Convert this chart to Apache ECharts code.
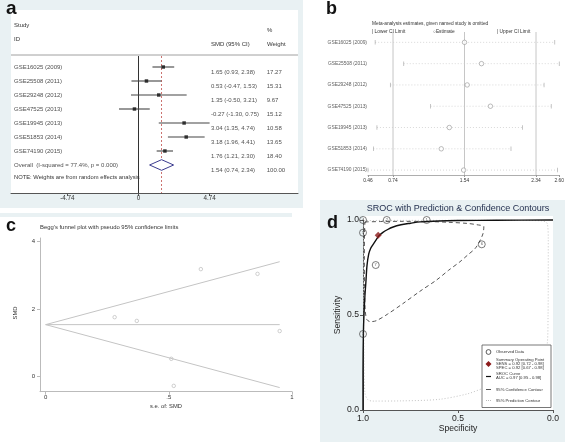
<!DOCTYPE html>
<html><head><meta charset="utf-8">
<script src="https://cdn.jsdelivr.net/npm/echarts@6/dist/echarts.min.js"></script>
<style>html,body{margin:0;padding:0;background:#fff}#c{width:567px;height:445px}</style>
</head><body><div id="c"></div>
<script>
// ===== Panel a: forest plot =====
const studies = ['GSE16025 (2009)','GSE25508 (2011)','GSE29248 (2012)','GSE47525 (2013)','GSE19945 (2013)','GSE51853 (2014)','GSE74190 (2015)'];
const smd     = [1.65, 0.53, 1.35, -0.27, 3.04, 3.18, 1.76];
const smdLow  = [0.93, -0.47, -0.50, -1.30, 1.35, 1.96, 1.21];
const smdHigh = [2.38, 1.53, 3.21, 0.75, 4.74, 4.41, 2.30];
const weights = [17.27, 15.31, 9.67, 15.12, 10.58, 13.65, 18.40];
const overallLabel = 'Overall  (I-squared = 77.4%, p = 0.000)';
const overallEst = 1.54, overallLow = 0.74, overallHigh = 2.34, overallWeight = 100.00;
const aTicks = [-4.74, 0, 4.74];

// ===== Panel b: leave-one-out sensitivity =====
const bLow  = [0.54, 0.86, 0.71, 1.16, 0.56, 0.52, 0.46];
const bEst  = [1.54, 1.73, 1.57, 1.83, 1.37, 1.28, 1.53];
const bHigh = [2.55, 2.60, 2.43, 2.51, 2.19, 2.06, 2.58];
const bTicks = [0.46, 0.74, 1.54, 2.34, 2.60];
const bRef = [0.74, 1.54, 2.34];

// ===== Panel c: Begg's funnel =====
const cSE = [0.37, 0.51, 0.95, 0.52, 0.86, 0.63, 0.28];
const funnelSE  = [0, 0.95];
const funnelMid = [1.54, 1.54];
const funnelUp  = [1.54, 3.40];
const funnelLo  = [1.54, -0.32];
const cXTicks = [0, 0.5, 1];
const cXTickLabels = ['0', '.5', '1'];
const cYTicks = [0, 2, 4];

// ===== Panel d: SROC =====
const dObsSpec = [1.00, 0.875, 0.665, 1.00, 0.375, 0.933, 1.00];
const dObsSens = [1.00, 1.00, 1.00, 0.933, 0.872, 0.763, 0.40];
const dObsLabels = ['4', '2', '1', '5', '6', '7', '3'];
const dSummary = [0.92, 0.92];
const srocSpec = [1.000,1.000,0.998,0.995,0.990,0.985,0.979,0.970,0.960,0.949,0.930,0.916,0.895,0.870,0.845,0.800,0.750,0.700,0.600,0.500,0.300,0.000];
const srocSens = [0.000,0.200,0.400,0.500,0.600,0.670,0.760,0.820,0.850,0.868,0.897,0.917,0.935,0.950,0.962,0.975,0.983,0.990,0.995,0.997,0.999,1.000];
const confSpec = [0.990,0.900,0.800,0.665,0.550,0.450,0.400,0.364,0.368,0.385,0.410,0.450,0.490,0.550,0.613,0.700,0.790,0.870,0.930,0.960,0.979,0.988,0.992,0.993,0.992,0.990];
const confSens = [0.990,0.992,0.993,0.992,0.988,0.982,0.975,0.965,0.930,0.890,0.850,0.815,0.780,0.735,0.684,0.625,0.560,0.505,0.470,0.465,0.475,0.520,0.650,0.800,0.930,0.990];
const predSpec = [0.995,0.800,0.500,0.200,0.060,0.030,0.025,0.025,0.026,0.030,0.050,0.100,0.200,0.300,0.364,0.450,0.600,0.800,0.950,0.975,0.990,0.995,0.997,0.997,0.995];
const predSens = [0.997,0.998,0.998,0.998,0.996,0.980,0.900,0.700,0.500,0.350,0.260,0.200,0.160,0.130,0.115,0.085,0.056,0.048,0.047,0.055,0.090,0.300,0.600,0.900,0.997];
const dTicks = [0, 0.5, 1];

// ---------------------------------------------------------------
const FONT = 'Liberation Sans, Arial, sans-serif';
const chart = echarts.init(document.getElementById('c'), null, {renderer: 'canvas', width: 567, height: 445});

function T(x, y, text, size, o) {
  return {type: 'text', x: x, y: y, z: 50, silent: true,
    style: Object.assign({text: text, fontSize: size, fontFamily: FONT, fill: '#333',
      align: 'left', verticalAlign: 'middle', textAlign: 'left', textVerticalAlign: 'middle'}, o || {})};
}
function R(x, y, w, h, fill, z, extra) {
  return Object.assign({type: 'rect', z: z == null ? -10 : z, silent: true, shape: {x: x, y: y, width: w, height: h}, style: {fill: fill}}, extra || {});
}
function L(x1, y1, x2, y2, stroke, w, dash, z) {
  return {type: 'line', z: z == null ? 40 : z, silent: true, shape: {x1: x1, y1: y1, x2: x2, y2: y2}, style: {stroke: stroke, lineWidth: w, lineDash: dash || null}};
}
function segRender(color, width, dash) {
  return function (params, api) {
    const p1 = api.coord([api.value(0), api.value(2)]);
    const p2 = api.coord([api.value(1), api.value(2)]);
    return {type: 'line', shape: {x1: p1[0], y1: p1[1], x2: p2[0], y2: p2[1]}, style: {stroke: color, lineWidth: width, lineDash: dash || null}};
  };
}

const BLUE_BG = '#e9f1f3';
const aYMin = -0.7857, aYMax = 9;
const A_NAME_X = -8.3, A_SMD_X = 4.83, A_W_X = 8.55;
const bYMin = -0.58, bYMax = 6.23;

const noSplit = {show: false};
function hiddenY(idx, min, max, inv) {
  return {type: 'value', gridIndex: idx, min: min, max: max, inverse: !!inv, show: false, splitLine: noSplit};
}

const option = {
  animation: false,
  textStyle: {fontFamily: FONT},
  grid: [
    {left: 11, top: 56, width: 287, height: 137},
    {left: 368, top: 30, width: 192, height: 145},
    {left: 40, top: 238, width: 252, height: 153.7},
    {left: 363, top: 220, width: 190, height: 190, show: true, backgroundColor: '#fff', borderWidth: 0}
  ],
  xAxis: [
    {type: 'value', gridIndex: 0, min: -8.5, max: 10.633, splitLine: noSplit,
      axisLine: {show: true, onZero: false, lineStyle: {color: '#555', width: 1}},
      axisTick: {show: true, customValues: aTicks, length: 3, lineStyle: {color: '#555'}},
      axisLabel: {customValues: aTicks, fontSize: 6.3, color: '#333', margin: 2, formatter: v => (v === 0 ? '0' : v.toFixed(2))}},
    {type: 'value', gridIndex: 1, min: 0.46, max: 2.60, splitLine: noSplit,
      axisLine: {show: true, onZero: false, lineStyle: {color: '#999', width: 0.8}},
      axisTick: {show: true, customValues: bTicks, length: 2, lineStyle: {color: '#999'}},
      axisLabel: {customValues: bTicks, fontSize: 4.9, color: '#333', margin: 3, formatter: v => v.toFixed(2)}},
    {type: 'value', gridIndex: 2, min: -0.023, max: 1.0, splitLine: noSplit,
      name: 's.e. of: SMD', nameLocation: 'middle', nameGap: 12, nameTextStyle: {fontSize: 5.8, color: '#333'},
      axisLine: {show: true, onZero: false, lineStyle: {color: '#bbb', width: 1}},
      axisTick: {show: true, customValues: cXTicks, length: 3, lineStyle: {color: '#bbb'}},
      axisLabel: {customValues: cXTicks, fontSize: 6, color: '#333', margin: 3, formatter: v => cXTickLabels[cXTicks.indexOf(v)]}},
    {type: 'value', gridIndex: 3, min: 0, max: 1, interval: 0.5, inverse: true, splitLine: noSplit,
      name: 'Specificity', nameLocation: 'middle', nameGap: 13, nameTextStyle: {fontSize: 8.6, color: '#222'},
      axisLine: {show: true, onZero: false, lineStyle: {color: '#555', width: 1}},
      axisTick: {show: true, length: 3, lineStyle: {color: '#555'}},
      axisLabel: {fontSize: 8.6, color: '#222', margin: 4, formatter: v => v.toFixed(1)}}
  ],
  yAxis: [
    hiddenY(0, aYMin, aYMax, true),
    hiddenY(1, bYMin, bYMax, true),
    {type: 'value', gridIndex: 2, min: -0.442, max: 4.1, splitLine: noSplit,
      axisLine: {show: true, onZero: false, lineStyle: {color: '#bbb', width: 1}},
      axisTick: {show: true, customValues: cYTicks, length: 3, lineStyle: {color: '#bbb'}},
      axisLabel: {customValues: cYTicks, fontSize: 6, color: '#333', margin: 5}},
    {type: 'value', gridIndex: 3, min: 0, max: 1, interval: 0.5, splitLine: noSplit,
      name: 'Sensitivity', nameLocation: 'middle', nameGap: 21, nameTextStyle: {fontSize: 8.6, color: '#222'},
      axisLine: {show: true, onZero: false, lineStyle: {color: '#555', width: 1}},
      axisTick: {show: true, length: 3, lineStyle: {color: '#555'}},
      axisLabel: {fontSize: 8.6, color: '#222', margin: 4, formatter: v => v.toFixed(1)}}
  ],
  series: [
    // ---- a ----
    {type: 'line', xAxisIndex: 0, yAxisIndex: 0, data: [[0, aYMin], [0, aYMax]], symbol: 'none', silent: true,
      lineStyle: {color: '#333', width: 1}, z: 2},
    {type: 'line', xAxisIndex: 0, yAxisIndex: 0, data: [[overallEst, aYMin], [overallEst, aYMax]], symbol: 'none', silent: true,
      lineStyle: {color: '#c0504d', width: 0.8, type: [2, 2]}, z: 2},
    {type: 'custom', xAxisIndex: 0, yAxisIndex: 0, encode: {x: [0, 1], y: 2}, silent: true, z: 3,
      data: studies.map((s, i) => [smdLow[i], smdHigh[i], i]), renderItem: segRender('#444', 1.1)},
    {type: 'scatter', xAxisIndex: 0, yAxisIndex: 0, symbol: 'rect', symbolSize: 3.5, silent: true, z: 4,
      itemStyle: {color: '#111'}, data: smd.map((v, i) => [v, i])},
    {type: 'custom', xAxisIndex: 0, yAxisIndex: 0, encode: {x: [0, 1, 2], y: 3}, silent: true, z: 5,
      data: [[overallLow, overallEst, overallHigh, studies.length]],
      renderItem: function (params, api) {
        const r = api.value(3), h = 0.38;
        const pts = [api.coord([api.value(0), r]), api.coord([api.value(1), r - h]), api.coord([api.value(2), r]), api.coord([api.value(1), r + h])];
        return {type: 'polygon', shape: {points: pts}, style: {fill: '#fff', stroke: '#3b3b8f', lineWidth: 1}};
      }},
    {type: 'scatter', xAxisIndex: 0, yAxisIndex: 0, symbolSize: 0, silent: true, z: 6,
      data: studies.concat([overallLabel]).map((s, i) => ({value: [A_NAME_X, i], name: s})),
      label: {show: true, position: 'right', distance: 0, formatter: '{b}', fontSize: 6, color: '#222', fontFamily: FONT}},
    {type: 'scatter', xAxisIndex: 0, yAxisIndex: 0, symbolSize: 0, silent: true, z: 6,
      data: smd.concat([overallEst]).map((v, i) => {
        const lo = i < smd.length ? smdLow[i] : overallLow, hi = i < smd.length ? smdHigh[i] : overallHigh;
        return {value: [A_SMD_X, i], name: v.toFixed(2) + ' (' + lo.toFixed(2) + ', ' + hi.toFixed(2) + ')'};
      }),
      label: {show: true, position: 'right', distance: 0, offset: [0, 5], formatter: '{b}', fontSize: 6, color: '#222', fontFamily: FONT}},
    {type: 'scatter', xAxisIndex: 0, yAxisIndex: 0, symbolSize: 0, silent: true, z: 6,
      data: weights.concat([overallWeight]).map((w, i) => ({value: [A_W_X, i], name: w.toFixed(2)})),
      label: {show: true, position: 'right', distance: 0, offset: [0, 5], formatter: '{b}', fontSize: 6, color: '#222', fontFamily: FONT}},

    // ---- b ----
    {type: 'custom', xAxisIndex: 1, yAxisIndex: 1, encode: {x: 0, y: [1, 2]}, silent: true, z: 2,
      data: bRef.map(v => [v, bYMin, bYMax]),
      renderItem: function (params, api) {
        const p1 = api.coord([api.value(0), api.value(1)]), p2 = api.coord([api.value(0), api.value(2)]);
        return {type: 'line', shape: {x1: p1[0], y1: p1[1] + 2, x2: p2[0], y2: p2[1]}, style: {stroke: '#b8b8b8', lineWidth: 0.8}};
      }},
    {type: 'custom', xAxisIndex: 1, yAxisIndex: 1, encode: {x: [0, 1], y: 2}, silent: true, z: 3,
      data: bEst.map((v, i) => [bLow[i], bHigh[i], i]), renderItem: segRender('#c8c8c8', 0.7, [1, 2])},
    {type: 'scatter', xAxisIndex: 1, yAxisIndex: 1, symbol: 'rect', symbolSize: [0.7, 4.5], silent: true, z: 4,
      itemStyle: {color: '#999'}, data: bLow.map((v, i) => [v, i])},
    {type: 'scatter', xAxisIndex: 1, yAxisIndex: 1, symbol: 'rect', symbolSize: [0.7, 4.5], silent: true, z: 4,
      itemStyle: {color: '#999'}, data: bHigh.map((v, i) => [v, i])},
    {type: 'scatter', xAxisIndex: 1, yAxisIndex: 1, symbol: 'circle', symbolSize: 4.5, silent: true, z: 5,
      itemStyle: {color: '#fff', borderColor: '#888', borderWidth: 0.7}, data: bEst.map((v, i) => [v, i])},
    {type: 'scatter', xAxisIndex: 1, yAxisIndex: 1, symbolSize: 0, silent: true, z: 6,
      data: studies.map((s, i) => ({value: [0.46, i], name: s})),
      label: {show: true, position: 'left', distance: 1, formatter: '{b}', fontSize: 4.9, color: '#333', fontFamily: FONT}},

    // ---- c ----
    {type: 'line', xAxisIndex: 2, yAxisIndex: 2, symbol: 'none', silent: true, lineStyle: {color: '#c4c4c4', width: 1},
      data: funnelSE.map((s, i) => [s, funnelMid[i]])},
    {type: 'line', xAxisIndex: 2, yAxisIndex: 2, symbol: 'none', silent: true, lineStyle: {color: '#c4c4c4', width: 1},
      data: funnelSE.map((s, i) => [s, funnelUp[i]])},
    {type: 'line', xAxisIndex: 2, yAxisIndex: 2, symbol: 'none', silent: true, lineStyle: {color: '#c4c4c4', width: 1},
      data: funnelSE.map((s, i) => [s, funnelLo[i]])},
    {type: 'scatter', xAxisIndex: 2, yAxisIndex: 2, symbol: 'circle', symbolSize: 3.5, silent: true,
      itemStyle: {color: '#fff', borderColor: '#aaa', borderWidth: 0.7}, data: cSE.map((s, i) => [s, smd[i]])},

    // ---- d ----
    {type: 'line', xAxisIndex: 3, yAxisIndex: 3, symbol: 'none', silent: true, clip: false, smooth: 0.3, z: 2,
      lineStyle: {color: '#c4c4c4', width: 1, type: [1, 2]}, data: predSpec.map((s, i) => [s, predSens[i]])},
    {type: 'line', xAxisIndex: 3, yAxisIndex: 3, symbol: 'none', silent: true, clip: false, smooth: 0.3, z: 3,
      lineStyle: {color: '#555', width: 1, type: [4, 3]}, data: confSpec.map((s, i) => [s, confSens[i]])},
    {type: 'line', xAxisIndex: 3, yAxisIndex: 3, symbol: 'none', silent: true, clip: false, smooth: 0.3, z: 4,
      lineStyle: {color: '#111', width: 1.4}, data: srocSpec.map((s, i) => [s, srocSens[i]])},
    {type: 'scatter', xAxisIndex: 3, yAxisIndex: 3, symbol: 'circle', symbolSize: 7, silent: true, z: 5,
      itemStyle: {color: 'rgba(255,255,255,0)', borderColor: '#333', borderWidth: 0.8},
      label: {show: true, position: 'inside', formatter: '{b}', fontSize: 4, color: '#333'},
      data: dObsSpec.map((s, i) => ({value: [s, dObsSens[i]], name: dObsLabels[i]}))},
    {type: 'scatter', xAxisIndex: 3, yAxisIndex: 3, symbol: 'diamond', symbolSize: 7, silent: true, z: 6,
      itemStyle: {color: '#8b1a1a'}, data: [dSummary]}
  ],
  graphic: [
    // backgrounds
    R(0, 0, 303, 208, BLUE_BG, -20),
    R(11, 10, 287, 183, '#fff', -15),
    R(0, 213, 292, 4, BLUE_BG, -20),
    R(320, 200, 245, 242, BLUE_BG, -20),
    R(363, 216, 190, 194, '#fff', -15),
    L(11, 55, 298, 55, '#888', 0.8, null, 1),
    // panel letters
    T(6, 8.5, 'a', 19, {fontWeight: 'bold', fill: '#111'}),
    T(326, 9, 'b', 18, {fontWeight: 'bold', fill: '#111'}),
    T(6, 226, 'c', 18, {fontWeight: 'bold', fill: '#111'}),
    T(327, 223.5, 'd', 18, {fontWeight: 'bold', fill: '#111'}),
    // panel a headers
    T(14, 25, 'Study', 6),
    T(14, 39, 'ID', 6),
    T(211, 44, 'SMD (95% CI)', 6),
    T(267, 30, '%', 6),
    T(267, 44, 'Weight', 6),
    T(14, 177, 'NOTE: Weights are from random effects analysis', 5.8),
    // panel b header
    T(372, 24, 'Meta-analysis estimates, given named study is omitted', 4.8),
    T(372, 31.5, '| Lower CI Limit', 4.8),
    T(433, 31.5, '\u25CBEstimate', 4.8),
    T(497, 31.5, '| Upper CI Limit', 4.8),
    // panel c
    T(40, 227, "Begg's funnel plot with pseudo 95% confidence limits", 5.9),
    Object.assign(T(15, 313, 'SMD', 5.8, {align: 'center', textAlign: 'center'}), {rotation: Math.PI / 2}),
    // panel d title
    T(458, 209, 'SROC with Prediction & Confidence Contours', 9, {align: 'center', textAlign: 'center', fill: '#1e2a4a'}),
    // panel d legend
    R(482, 345, 69, 62.5, '#fff', 30, {style: {fill: '#fff', stroke: '#555', lineWidth: 0.8}}),
    {type: 'circle', z: 40, silent: true, shape: {cx: 488.5, cy: 352, r: 2.4}, style: {fill: 'none', stroke: '#333', lineWidth: 0.8}},
    T(496, 352, 'Observed Data', 4.2),
    {type: 'polygon', z: 40, silent: true, shape: {points: [[488.5, 361], [491.5, 364], [488.5, 367], [485.5, 364]]}, style: {fill: '#8b1a1a'}},
    T(496, 360, 'Summary Operating Point', 4.2),
    T(496, 363.7, 'SENS = 0.92 [0.72 - 0.98]', 4.2),
    T(496, 367.4, 'SPEC = 0.92 [0.67 - 0.98]', 4.2),
    L(486, 376.5, 491, 376.5, '#111', 1.2),
    T(496, 373.8, 'SROC Curve', 4.2),
    T(496, 377.6, 'AUC = 0.97 [0.95 - 0.98]', 4.2),
    L(486, 389.5, 491, 389.5, '#555', 1),
    T(496, 389.5, '95% Confidence Contour', 4.2),
    L(486, 400.5, 491, 400.5, '#bbb', 1, [1, 1]),
    T(496, 400.5, '95% Prediction Contour', 4.2)
  ]
};
chart.setOption(option);
</script>
</body></html>
